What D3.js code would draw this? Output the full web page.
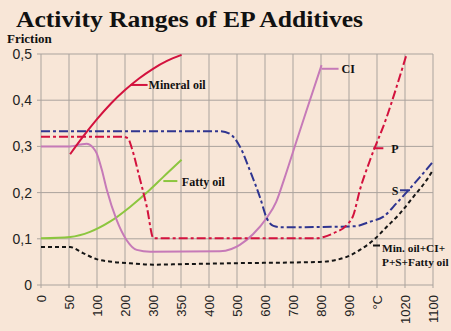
<!DOCTYPE html>
<html><head><meta charset="utf-8">
<script src="https://cdn.jsdelivr.net/npm/d3@7"></script>
<style>html,body{margin:0;padding:0;background:#f8e6d7;}svg{display:block;}</style>
</head><body>
<script>
// x positions are given in category-slot units (0 = first tick, 14 = last tick)
const xLabels = ["0","50","100","200","300","350","400","500","600","700","800","900","°C","1020","1100"];
const yTicks = [0,0.1,0.2,0.3,0.4,0.5];

const mineralOil = [[1.04,.283],[1.5,.321],[2.0,.359],[2.5,.393],[3.0,.422],[3.5,.447],[4.0,.468],[4.5,.485],[5.02,.498]];
const ciData = [[0,.300],[1.04,.300],[1.4,.304],[1.63,.306],[1.85,.298],[1.99,.285],[2.17,.25],[2.35,.206],[2.7,.141],[3.06,.097],[3.42,.076],[3.9,.072],[6.39,.073],[6.8,.078],[7.1,.087],[7.57,.110],[8.06,.145],[8.4,.180],[8.7,.232],[9.0,.288],[9.5,.381],[10.02,.476]];
const fattyOil = [[0,.101],[1.04,.104],[1.75,.115],[2.46,.137],[3.18,.169],[3.89,.206],[4.37,.234],[5.02,.271]];
const pData = [[0,.321],[2.9,.321],[3.1,.318],[3.25,.295],[3.48,.242],[3.78,.169],[4.02,.101],[9.8,.101],[10.1,.104],[10.44,.112],[10.92,.130],[11.15,.150],[11.39,.206],[11.75,.27],[12.35,.364],[12.7,.429],[13.06,.5]];
const sData = [[0,.333],[6.4,.333],[6.75,.327],[7.11,.299],[7.46,.248],[7.82,.19],[8.06,.145],[8.3,.128],[8.6,.125],[11.2,.127],[11.75,.137],[12.23,.148],[12.7,.177],[13.18,.209],[13.54,.234],[14,.267]];
const comboData = [[0,.082],[1.04,.082],[1.5,.069],[1.98,.056],[2.57,.050],[3.18,.047],[4.01,.044],[4.96,.045],[6.75,.047],[9.96,.050],[10.92,.061],[11.39,.076],[11.87,.097],[12.35,.126],[12.82,.155],[13.3,.191],[13.77,.227],[14,.249]];

const W = 451, H = 331;
const svg = d3.select("body").append("svg").attr("width", W).attr("height", H);
svg.append("rect").attr("width", W).attr("height", H).attr("fill", "#f8e6d7");

const x = d3.scaleLinear().domain([0, xLabels.length - 1]).range([41, 433]);
const y = d3.scaleLinear().domain([0, 0.5]).range([285, 54]);

// grid
const grid = svg.append("g");
grid.selectAll("line.v").data(d3.range(xLabels.length)).join("line")
  .attr("x1", d => x(d)).attr("x2", d => x(d)).attr("y1", y(0.5)).attr("y2", y(0) + 3)
  .attr("stroke", "#aaa39d").attr("stroke-width", 1);
grid.selectAll("line.h").data(yTicks).join("line")
  .attr("x1", x(0) - 4).attr("x2", x(14)).attr("y1", d => y(d)).attr("y2", d => y(d))
  .attr("stroke", "#aaa39d").attr("stroke-width", 1);

// y tick labels
svg.append("g").selectAll("text").data(yTicks).join("text")
  .attr("x", 32).attr("y", d => y(d) + 5)
  .attr("text-anchor", "end")
  .attr("font-family", "Liberation Sans, Arial, sans-serif").attr("font-size", 14).attr("fill", "#222")
  .text(d => d === 0 ? "0" : d3.format(".1f")(d).replace(".", ","));

// x tick labels (rotated)
svg.append("g").selectAll("text").data(xLabels).join("text")
  .attr("transform", (d, i) => `translate(${x(i) + 4.5},295) rotate(-90)`)
  .attr("text-anchor", "end")
  .attr("font-family", "Liberation Sans, Arial, sans-serif").attr("font-size", 13).attr("fill", "#222")
  .text(d => d);

const line = d3.line().x(d => x(d[0])).y(d => y(d[1])).curve(d3.curveMonotoneX);

const series = [
  {data: comboData, color: "#151515", dash: "4,3"},
  {data: fattyOil, color: "#8cc63f", dash: null},
  {data: ciData, color: "#c67ab8", dash: null},
  {data: sData, color: "#2f3590", dash: "9,3,3,3"},
  {data: pData, color: "#d3123e", dash: "9,3,3,3"},
  {data: mineralOil, color: "#d3123e", dash: null}
];
svg.append("g").selectAll("path").data(series).join("path")
  .attr("d", d => line(d.data))
  .attr("fill", "none").attr("stroke", d => d.color).attr("stroke-width", 2)
  .attr("stroke-dasharray", d => d.dash);

// labels with leader lines
const serif = "Liberation Serif, Times New Roman, serif";
function label(lx1, lx2, ly, color, text, tx, ty, size, anchor) {
  svg.append("line").attr("x1", lx1).attr("x2", lx2).attr("y1", ly).attr("y2", ly)
    .attr("stroke", color).attr("stroke-width", 2);
  svg.append("text").attr("x", tx).attr("y", ty).attr("font-family", serif)
    .attr("font-weight", "bold").attr("font-size", size).attr("fill", "#111")
    .attr("text-anchor", anchor || "start").text(text);
}
label(x(3.2), x(3.2) + 17, y(0.433), "#d3123e", "Mineral oil", x(3.2) + 18, y(0.433) + 4, 12);
label(x(10.02), x(10.02) + 17, y(0.468), "#c67ab8", "CI", x(10.02) + 20, y(0.468) + 4.5, 12);
label(x(4.37), x(4.37) + 14, y(0.225), "#8cc63f", "Fatty oil", x(4.37) + 18.5, y(0.225) + 5, 12);
label(x(11.87), x(11.87) + 10, y(0.296), "#d3123e", "P", x(11.87) + 18, y(0.296) + 5, 12);
label(x(12.82), x(13.18), y(0.205), "#2f3590", "S", x(12.82) - 1.5, y(0.205) + 4.5, 12, "end");
svg.append("line").attr("x1", 373).attr("x2", 380).attr("y1", 245.5).attr("y2", 245.5)
  .attr("stroke", "#151515").attr("stroke-width", 2);
svg.append("text").attr("x", 382).attr("y", 251.5).attr("font-family", serif)
  .attr("font-weight", "bold").attr("font-size", 11.3).attr("fill", "#111").text("Min. oil+CI+");
svg.append("text").attr("x", 382).attr("y", 265.5).attr("font-family", serif)
  .attr("font-weight", "bold").attr("font-size", 11.3).attr("fill", "#111").text("P+S+Fatty oil");

// title
svg.append("text").attr("x", 16).attr("y", 27).attr("font-family", serif)
  .attr("font-weight", "bold").attr("font-size", 23).attr("fill", "#111")
  .attr("textLength", 347).attr("lengthAdjust", "spacingAndGlyphs")
  .text("Activity Ranges of EP Additives");
svg.append("text").attr("x", 7).attr("y", 42.5).attr("font-family", serif)
  .attr("font-weight", "bold").attr("font-size", 13).attr("fill", "#111")
  .text("Friction");
</script>
</body></html>
